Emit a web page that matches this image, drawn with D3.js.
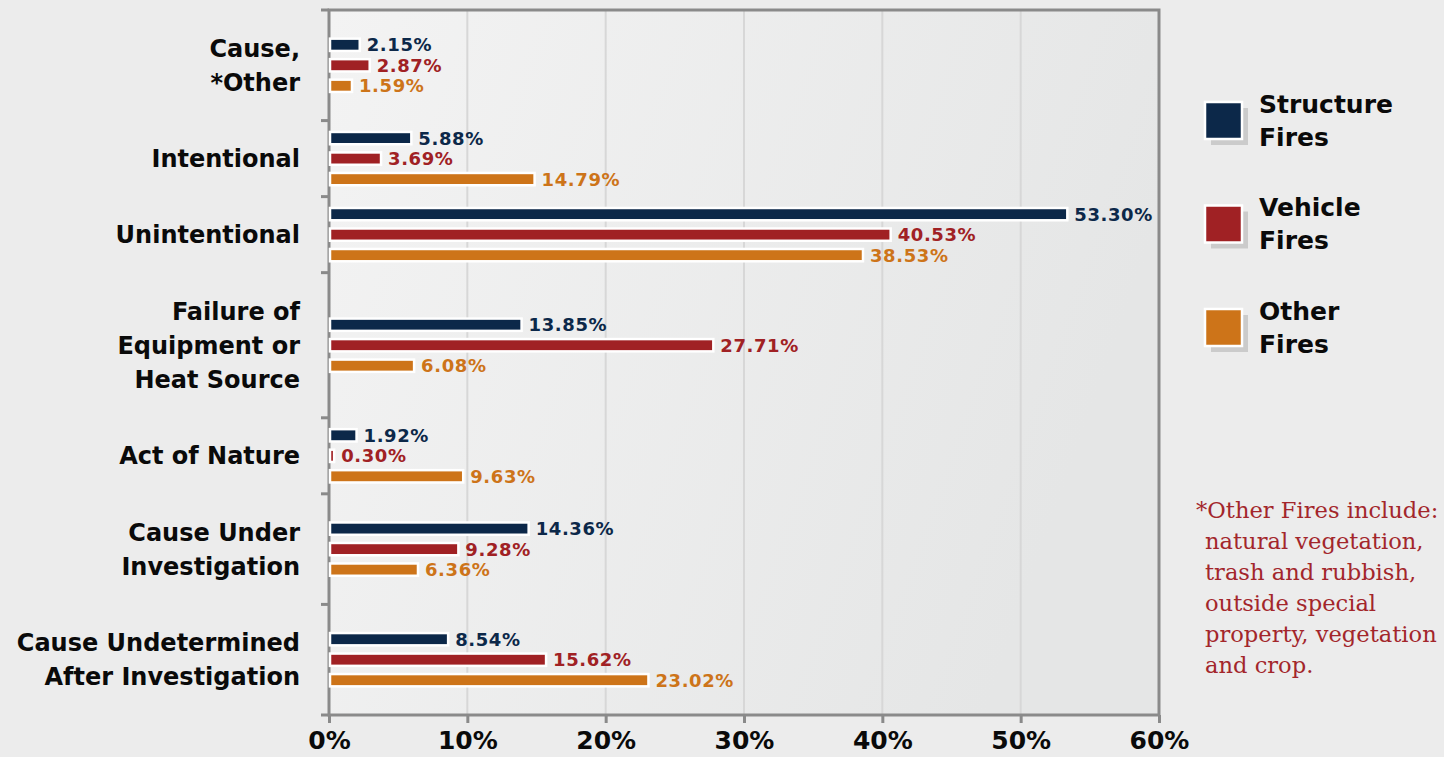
<!DOCTYPE html>
<html>
<head>
<meta charset="utf-8">
<script src="https://cdn.jsdelivr.net/npm/d3@7.9.0/dist/d3.min.js"></script>
<style>
  html, body { margin: 0; padding: 0; background: #ebebeb; }
  svg { display: block; }
</style>
</head>
<body>
<svg id="chart" width="1444" height="757"></svg>
<script>
// data
const categories = [
  ['Cause,', '*Other'],
  ['Intentional'],
  ['Unintentional'],
  ['Failure of', 'Equipment or', 'Heat Source'],
  ['Act of Nature'],
  ['Cause Under', 'Investigation'],
  ['Cause Undetermined', 'After Investigation']
];
const seriesNames = ['Structure Fires', 'Vehicle Fires', 'Other Fires'];
const structureFires = [2.15, 5.88, 53.30, 13.85, 1.92, 14.36, 8.54];
const vehicleFires = [2.87, 3.69, 40.53, 27.71, 0.30, 9.28, 15.62];
const otherFires = [1.59, 14.79, 38.53, 6.08, 9.63, 6.36, 23.02];
const xTicks = [0, 10, 20, 30, 40, 50, 60];
const footnote = [
  '*Other Fires include:',
  'natural vegetation,',
  'trash and rubbish,',
  'outside special',
  'property, vegetation',
  'and crop.'
];

const colors = ['#0c2849', '#a02124', '#cd7419'];
const seriesValues = [structureFires, vehicleFires, otherFires];

const svg = d3.select('#chart');
const plot = { left: 329, right: 1159, top: 10, bottom: 715 };

const defs = svg.append('defs');
const bg = defs.append('linearGradient').attr('id', 'plotbg').attr('x1', 0).attr('x2', 1).attr('y1', 0).attr('y2', 0.3);
bg.append('stop').attr('offset', 0).attr('stop-color', '#f3f3f3');
bg.append('stop').attr('offset', 1).attr('stop-color', '#e5e6e6');

svg.append('rect').attr('width', 1444).attr('height', 757).attr('fill', '#ececec');

const x = d3.scaleLinear().domain([0, 60]).range([plot.left, plot.right]);

// group heights grow with the number of label lines
const weights = categories.map(c => 1.2 + c.length);
const cum = [0];
weights.forEach(w => cum.push(cum[cum.length - 1] + w));
const yw = d3.scaleLinear().domain([0, cum[cum.length - 1]]).range([plot.top, plot.bottom]);
const groupCenter = i => (yw(cum[i]) + yw(cum[i + 1])) / 2;

const inner = d3.scaleBand().domain(seriesNames).range([-30.75, 30.75])
  .paddingInner(0.4).paddingOuter(0.2);

svg.append('rect')
  .attr('x', plot.left).attr('y', plot.top)
  .attr('width', plot.right - plot.left).attr('height', plot.bottom - plot.top)
  .attr('fill', 'url(#plotbg)');

// grid
svg.append('g').selectAll('line')
  .data(xTicks.slice(1, -1))
  .join('line')
  .attr('x1', d => x(d)).attr('x2', d => x(d))
  .attr('y1', plot.top).attr('y2', plot.bottom)
  .attr('stroke', '#d7d7d7').attr('stroke-width', 2);

// bottom axis
const xAxis = svg.append('g')
  .attr('transform', `translate(0,${plot.bottom})`)
  .call(d3.axisBottom(x).tickValues(xTicks).tickFormat(d => d + '%').tickSize(8));
xAxis.select('.domain').remove();
xAxis.selectAll('.tick line').attr('stroke', '#8a8a8a').attr('stroke-width', 3);
xAxis.selectAll('.tick text')
  .attr('y', 34)
  .attr('dy', null)
  .attr('fill', '#0a0a0a')
  .attr('font-family', 'DejaVu Sans')
  .attr('font-weight', 'bold')
  .attr('font-size', 25);

// left ticks at group boundaries
svg.append('g').selectAll('line')
  .data(cum)
  .join('line')
  .attr('x1', plot.left - 8).attr('x2', plot.left)
  .attr('y1', d => yw(d)).attr('y2', d => yw(d))
  .attr('stroke', '#8a8a8a').attr('stroke-width', 3);

// frame
svg.append('rect')
  .attr('x', plot.left).attr('y', plot.top)
  .attr('width', plot.right - plot.left).attr('height', plot.bottom - plot.top)
  .attr('fill', 'none').attr('stroke', '#8a8a8a').attr('stroke-width', 3);

// category labels
const catG = svg.append('g');
categories.forEach((lines, i) => {
  const lh = 34;
  const c = groupCenter(i);
  const t = catG.append('text')
    .attr('text-anchor', 'end')
    .attr('font-family', 'DejaVu Sans')
    .attr('font-weight', 'bold')
    .attr('font-size', 24)
    .attr('fill', '#0a0a0a');
  lines.forEach((ln, j) => {
    t.append('tspan')
      .attr('x', 300)
      .attr('y', c + (j - (lines.length - 1) / 2) * lh)
      .attr('dy', '0.36em')
      .text(ln);
  });
});

// bars
const rows = [];
categories.forEach((c, i) => {
  seriesNames.forEach((s, k) => rows.push({ i, s, k, v: seriesValues[k][i] }));
});

svg.append('g').selectAll('rect')
  .data(rows)
  .join('rect')
  .attr('x', x(0) + 1)
  .attr('y', d => groupCenter(d.i) + inner(d.s))
  .attr('width', d => Math.max(x(d.v) - x(0), 1))
  .attr('height', inner.bandwidth())
  .attr('fill', d => colors[d.k])
  .attr('stroke', '#ffffff')
  .attr('stroke-width', 2.5);

svg.append('g').selectAll('text')
  .data(rows)
  .join('text')
  .attr('x', d => x(d.v) + 8)
  .attr('y', d => groupCenter(d.i) + inner(d.s) + inner.bandwidth() / 2)
  .attr('dy', '0.36em')
  .attr('font-family', 'DejaVu Sans')
  .attr('font-weight', 'bold')
  .attr('font-size', 18)
  .attr('letter-spacing', 0.6)
  .attr('fill', d => colors[d.k])
  .text(d => d.v.toFixed(2) + '%');

// legend
const legend = svg.append('g');
seriesNames.forEach((name, k) => {
  const cy = 120 + k * 103.5;
  const g = legend.append('g').attr('transform', `translate(1205,${cy - 18})`);
  g.append('rect').attr('x', 6).attr('y', 6).attr('width', 37).attr('height', 37).attr('fill', '#cbcbcb');
  g.append('rect').attr('width', 37).attr('height', 37)
    .attr('fill', colors[k]).attr('stroke', '#ffffff').attr('stroke-width', 2.5);
  const t = g.append('text')
    .attr('font-family', 'DejaVu Sans')
    .attr('font-weight', 'bold')
    .attr('font-size', 25)
    .attr('fill', '#0a0a0a');
  name.split(' ').forEach((w, j) => {
    t.append('tspan').attr('x', 54).attr('y', 18 + (j - 0.5) * 33).attr('dy', '0.36em').text(w);
  });
});

// footnote
svg.append('text')
  .attr('font-family', 'DejaVu Serif')
  .attr('font-size', 22.6)
  .attr('fill', '#a3262b')
  .selectAll('tspan')
  .data(footnote)
  .join('tspan')
  .attr('x', (d, j) => j === 0 ? 1196 : 1205)
  .attr('y', (d, j) => 518 + j * 31)
  .text(d => d);
</script>
</body>
</html>
